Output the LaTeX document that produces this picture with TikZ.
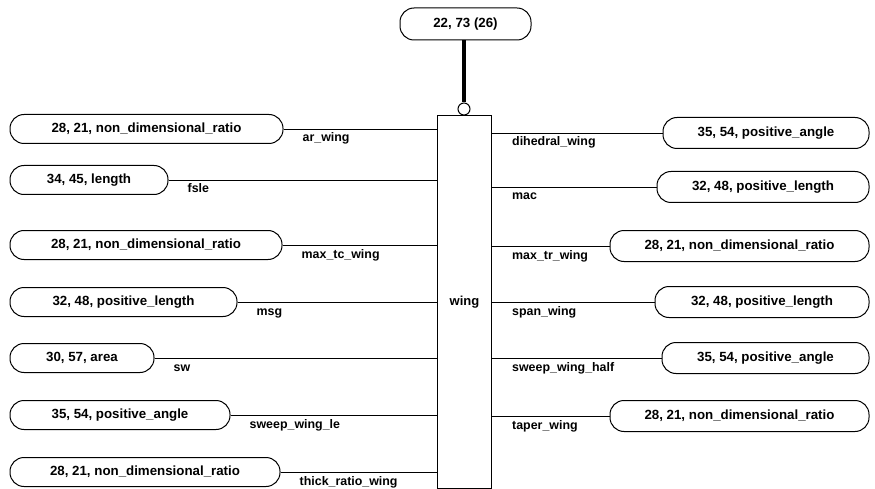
\documentclass[tikz,border=0pt]{standalone}
\usepackage{fontspec}
\setmainfont{Liberation Sans}
\begin{document}
\begin{tikzpicture}[x=1pt,y=-1pt,
  pill/.style={draw, line width=1pt, rounded corners=14pt, minimum height=29pt, inner sep=0pt,
    font=\bfseries\fontsize{13.3}{15}\selectfont},
  lbl/.style={font=\bfseries\fontsize{12.4}{14}\selectfont, inner sep=0pt, anchor=base west},
  conn/.style={line width=0.9pt}]
\useasboundingbox (0,0) rectangle (875,489);

% central entity
\node[draw, line width=1pt, minimum width=54pt, minimum height=373pt, anchor=north west,
  font=\bfseries\fontsize{13}{15}\selectfont] (wing) at (437,115) {wing};
\node[pill, minimum width=131pt, minimum height=32pt] (top) at (465.5,24) {22, 73 (26)};
\node[circle, draw, line width=1pt, minimum size=12pt, inner sep=0pt] (circ) at (464,109) {};
\draw[line width=3.5pt] (top.south -| circ.north) -- (circ.north);

% left side
\node[pill, minimum width=273pt] (l1) at (146.5,129) {28, 21, non\_dimensional\_ratio};
\node[pill, minimum width=158pt] (l2) at (89,180) {34, 45, length};
\node[pill, minimum width=272pt] (l3) at (146,245) {28, 21, non\_dimensional\_ratio};
\node[pill, minimum width=227pt] (l4) at (123.5,302) {32, 48, positive\_length};
\node[pill, minimum width=144pt] (l5) at (82,358) {30, 57, area};
\node[pill, minimum width=220pt] (l6) at (120,415) {35, 54, positive\_angle};
\node[pill, minimum width=270pt] (l7) at (145,472) {28, 21, non\_dimensional\_ratio};

\foreach \n/\t in {l1/ar\_wing, l2/fsle, l3/max\_tc\_wing, l4/msg, l5/sw, l6/sweep\_wing\_le, l7/thick\_ratio\_wing}{
  \draw[conn] (\n.east) -- (\n.east -| wing.west);
  \node[lbl] at ([xshift=19pt,yshift=-13pt]\n.east) {\t};
}

% right side
\node[pill, minimum width=206pt, minimum height=31pt] (r1) at (766,133) {35, 54, positive\_angle};
\node[pill, minimum width=212pt, minimum height=31pt] (r2) at (763,187) {32, 48, positive\_length};
\node[pill, minimum width=259pt, minimum height=31pt] (r3) at (739.5,246) {28, 21, non\_dimensional\_ratio};
\node[pill, minimum width=214pt, minimum height=31pt] (r4) at (762,302) {32, 48, positive\_length};
\node[pill, minimum width=207pt, minimum height=31pt] (r5) at (765.5,358) {35, 54, positive\_angle};
\node[pill, minimum width=259pt, minimum height=31pt] (r6) at (739.5,416) {28, 21, non\_dimensional\_ratio};

\foreach \n/\t in {r1/dihedral\_wing, r2/mac, r3/max\_tr\_wing, r4/span\_wing, r5/sweep\_wing\_half, r6/taper\_wing}{
  \draw[conn] (\n.west) -- (\n.west -| wing.east);
  \node[lbl] at ([xshift=20pt,yshift=-13pt]\n.west -| wing.east) {\t};
}
\end{tikzpicture}
\end{document}
